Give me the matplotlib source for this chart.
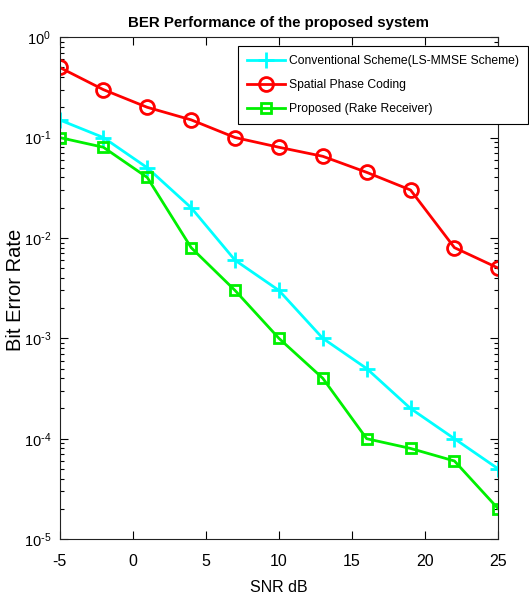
import matplotlib
matplotlib.use("Agg")
import matplotlib.pyplot as plt
from matplotlib.ticker import LogLocator, NullFormatter, FuncFormatter
import numpy as np

plt.rcParams['font.family'] = ['Liberation Sans', 'DejaVu Sans']
plt.rcParams['mathtext.default'] = 'regular'
plt.rcParams['axes.unicode_minus'] = False

snr_db = [-5, -2, 1, 4, 7, 10, 13, 16, 19, 22, 25]
ber_conventional = [0.15, 0.1, 0.05, 0.02, 0.006, 0.003, 0.001, 0.0005, 0.0002, 0.0001, 0.00005]
ber_spatial = [0.5, 0.3, 0.2, 0.15, 0.1, 0.08, 0.065, 0.045, 0.03, 0.008, 0.005]
ber_proposed = [0.1, 0.08, 0.04, 0.008, 0.003, 0.001, 0.0004, 0.0001, 0.00008, 0.00006, 0.00002]

labels = ['Conventional Scheme(LS-MMSE Scheme)', 'Spatial Phase Coding', 'Proposed (Rake Receiver)']
x_ticks = [-5, 0, 5, 10, 15, 20, 25]


def decade_label(value, _pos):
    exp = int(round(np.log10(value)))
    if exp < 0:
        return r'$10^{\text{-}%d}$' % (-exp)
    return r'$10^{%d}$' % exp


fig = plt.figure(figsize=(5.29, 5.99), dpi=100)
ax = fig.add_axes([0.1125, 0.100, 0.8295, 0.838])

ax.semilogy(snr_db, ber_conventional, color='#00ffff', marker='+', markersize=11,
            markeredgewidth=2, linewidth=2, label=labels[0])
ax.semilogy(snr_db, ber_spatial, color='#ff0000', marker='o', markersize=10,
            markerfacecolor='none', markeredgewidth=2, linewidth=2, label=labels[1])
ax.semilogy(snr_db, ber_proposed, color='#00f000', marker='s', markersize=6.8,
            markerfacecolor='none', markeredgewidth=2, linewidth=2, label=labels[2])

ax.set_xlim(-5, 25)
ax.set_ylim(1e-5, 1)
ax.set_xticks(x_ticks)
ax.yaxis.set_major_locator(LogLocator(base=10, numticks=10))
ax.yaxis.set_major_formatter(FuncFormatter(decade_label))
ax.yaxis.set_minor_locator(LogLocator(base=10, subs=range(2, 10), numticks=100))
ax.yaxis.set_minor_formatter(NullFormatter())
ax.tick_params(which='both', direction='in', top=True, right=True)
ax.tick_params(axis='x', pad=11, labelsize=11.5)
ax.tick_params(axis='y', pad=6, labelsize=10.5)
ax.tick_params(which='major', length=6, width=0.8)
ax.tick_params(which='minor', length=3, width=0.8)
for s in ax.spines.values():
    s.set_linewidth(0.8)
    s.set_color('#222222')

ax.set_title('BER Performance of the proposed system', fontsize=10.8, fontweight='bold', pad=7)
ax.set_xlabel('SNR dB', fontsize=11.5, labelpad=8)
ax.set_ylabel('Bit Error Rate', fontsize=14.5)
ax.yaxis.set_label_coords(-0.078, 0.497)

leg = ax.legend(loc='upper right', bbox_to_anchor=(528 / 529, 1 - 46 / 599),
                bbox_transform=fig.transFigure, fontsize=8.7, fancybox=False,
                framealpha=1, edgecolor='black', borderpad=0.75, labelspacing=1.0,
                handlelength=3.2, handletextpad=0.3, borderaxespad=0)
leg.get_frame().set_linewidth(0.8)

fig.savefig('out.png', dpi=100)
